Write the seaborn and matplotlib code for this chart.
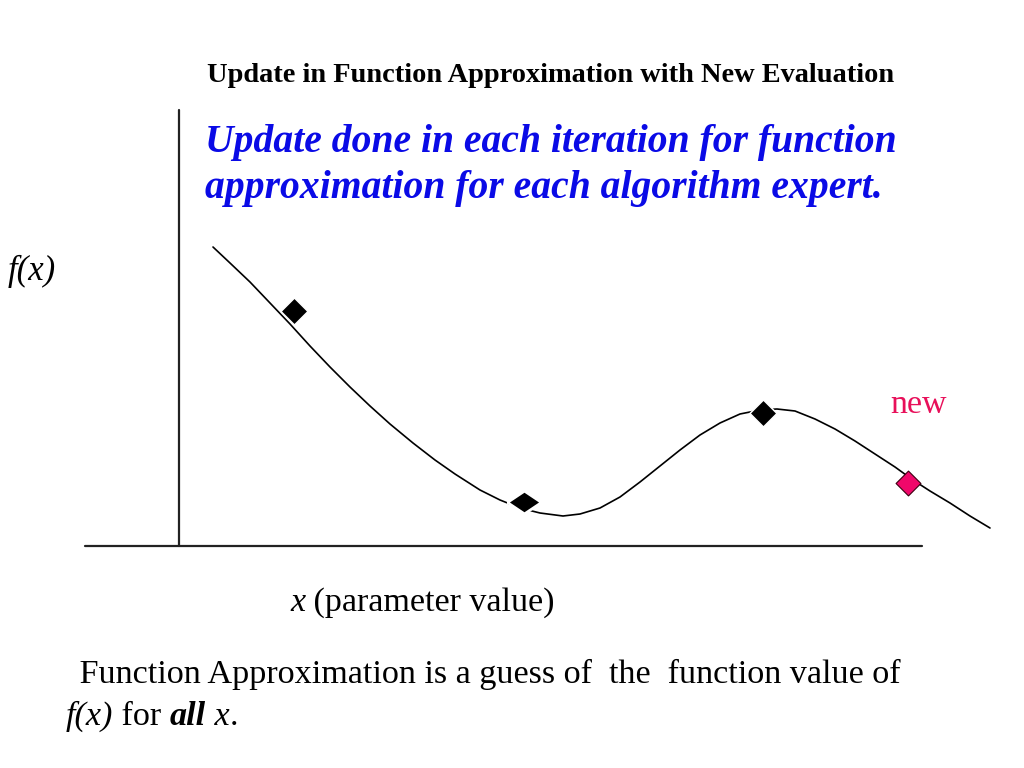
import pandas as pd
import seaborn as sns
import matplotlib.pyplot as plt

# curve of the function approximation (pixel units, y down)
curve_x = [213, 230, 250, 270, 290, 310, 330, 350, 370, 390, 413, 435, 455, 480,
           500, 520, 540, 563, 580, 600, 620, 640, 660, 680, 700, 720, 740, 760,
           777, 795, 815, 835, 855, 875, 895, 913, 930, 950, 970, 990]
curve_y = [247, 263, 282, 303, 324, 346, 367, 387, 406, 424, 443, 460, 474, 490,
           500, 508, 513, 516, 514, 508, 497, 482, 466, 450, 435, 423, 414, 410,
           409, 411, 419, 429, 441, 454, 467, 480, 491, 503, 516, 528]

# evaluated points
old_x = [294, 763]
old_y = [311, 413]
flat_x = [524]
flat_y = [502]
new_x = [908]
new_y = [483]

title = 'Update in Function Approximation with New Evaluation'
blue_lines = ['Update done in each iteration for function',
              'approximation for each algorithm expert.']
bottom_line1 = ' Function Approximation is a guess of  the  function value of'
bottom_line2 = [('f(x)', 'italic', 'normal'), (' for ', 'normal', 'normal'),
                ('all', 'italic', 'bold'), (' x', 'italic', 'normal'),
                ('.', 'normal', 'normal')]
xlabel = [('x', 'italic', 'normal'), (' (parameter value)', 'normal', 'normal')]

sns.set_style('white')
plt.rcParams['font.family'] = ['Liberation Serif', 'DejaVu Serif']
plt.rcParams['text.color'] = 'black'

fig = plt.figure(figsize=(10.24, 7.68), dpi=100)
ax = fig.add_axes([0, 0, 1, 1])
ax.set_xlim(0, 1024)
ax.set_ylim(768, 0)
ax.axis('off')
renderer = fig.canvas.get_renderer()


def runs(x, y, parts, size):
    # write text pieces one after another on the same baseline
    for txt, st, wt in parts:
        t = ax.text(x, y, txt, fontsize=size, style=st, fontweight=wt,
                    ha='left', va='baseline')
        bb = t.get_window_extent(renderer)
        x = x + bb.width


# axes of the sketch
ax.plot([179, 179], [110, 546], color='#222222', lw=1.6)
ax.plot([85, 922], [546, 546], color='#222222', lw=1.6)

curve = pd.DataFrame({'x': curve_x, 'y': curve_y})
sns.lineplot(data=curve, x='x', y='y', sort=False, color='black', lw=1.2,
             solid_joinstyle='round', ax=ax)

sns.scatterplot(x=old_x, y=old_y, marker='D', s=190, color='black', ax=ax, zorder=3)
squash = [(-1, 0), (0, 0.67), (1, 0), (0, -0.67), (-1, 0)]
sns.scatterplot(x=flat_x, y=flat_y, marker=squash, s=600, color='black', ax=ax, zorder=3)
sns.scatterplot(x=new_x, y=new_y, marker='D', s=160, color='#F0086A',
                edgecolor='#3a0010', linewidth=0.8, ax=ax, zorder=3)

ax.text(207, 82, title, fontsize=20.45, fontweight='bold', ha='left', va='baseline')
ax.text(205, 152, blue_lines[0], fontsize=28.5, fontweight='bold', style='italic',
        color='#0A0AE6', ha='left', va='baseline')
ax.text(205, 198, blue_lines[1], fontsize=28.5, fontweight='bold', style='italic',
        color='#0A0AE6', ha='left', va='baseline')
ax.text(8, 280, 'f(x)', fontsize=25, style='italic', ha='left', va='baseline')
ax.text(890, 413, 'new', fontsize=24.5, color='#E8105A', ha='left', va='baseline')
runs(290, 611, xlabel, 24.5)
ax.text(71, 683, bottom_line1, fontsize=24.6, ha='left', va='baseline')
runs(66, 725, bottom_line2, 24.6)

plt.savefig('out.png', dpi=100)
